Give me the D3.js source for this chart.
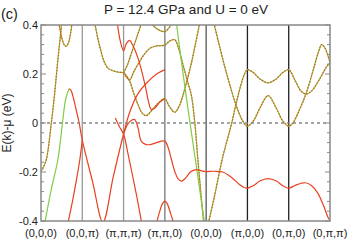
<!DOCTYPE html>
<html>
<meta charset="utf-8">
<head>
    <title>Band structure, P = 12.4 GPa, U = 0 eV</title>
    <script src="https://d3js.org/d3.v7.min.js"></script>
    <style>
    body { margin: 0; background: white; }
    text { font-family: "Liberation Sans", Arial, sans-serif; fill: #222; }
    </style>
</head>
<body>
<script>

// k-path labels (one per high-symmetry point)
var kLabels = ["(0,0,0)", "(0,0,\u03c0)", "(\u03c0,\u03c0,\u03c0)", "(\u03c0,\u03c0,0)",
               "(0,0,0)", "(\u03c0,0,0)", "(0,\u03c0,0)", "(0,\u03c0,\u03c0)"];
var yTicks = [-0.4, -0.2, 0, 0.2, 0.4];

// bands: [k along path, E(k)-mu in eV]
var bandA = [[0,-0.197],[0.06,-0.18],[0.13,-0.149],[0.25,0],[0.33,0.12],[0.41,0.26],[0.51,0.42]];
var bandV = [[0.42,0.42],[0.5,0.35],[0.56,0.32],[0.61,0.313],[0.67,0.33],[0.72,0.37],[0.76,0.42]];
var bandB1 = [[0.08,-0.42],[0.25,-0.27],[0.41,-0.149],[0.52,0],[0.6,0.1],[0.68,0.14]];
var bandB2 = [[0.68,0.14],[0.72,0.135],[0.78,0.105],[0.85,0.055],[0.925,0],[1,-0.07],[1.25,-0.24],
              [1.5,-0.405],[1.75,-0.22],[2,-0.045],[2.15,0.045],[2.35,0.12],[2.6,0.17],[2.8,0.2],[3,0.218]];
var bandR1 = [[0.65,-0.41],[0.75,-0.33],[0.85,-0.24],[0.94,-0.15],[1,-0.07]];
var bandP = [[1.29,0.42],[1.37,0.35],[1.45,0.295],[1.53,0.25],[1.62,0.224],[1.75,0.213],[1.9,0.207],
             [2,0.205],[2.08,0.19],[2.15,0.17],[2.25,0.12],[2.35,0.075],[2.45,0.04],[2.55,0.03],
             [2.65,0.045],[2.8,0.075],[2.9,0.09],[3,0.1],[3.1,0.07],[3.24,0.044],[3.35,0.07],
             [3.5,0.15],[3.65,0.25],[3.75,0.33],[3.86,0.42]];
var bandQ = [[1.84,0.42],[1.92,0.335],[2,0.295],[2.07,0.325],[2.15,0.337],[2.22,0.318],[2.35,0.265],
             [2.52,0.156],[2.6,0.09],[2.67,0.055],[2.75,0.06],[2.88,0.085],[3,0.1]];
var bandP2 = [[2,0.205],[2.1,0.24],[2.2,0.29],[2.32,0.35],[2.46,0.42]];
var bandS = [[2,0.205],[2.08,0.185],[2.15,0.176],[2.25,0.21],[2.39,0.251],[2.5,0.28],[2.64,0.305],
             [2.8,0.315],[3,0.318],[3.12,0.335],[3.24,0.34],[3.34,0.3],[3.44,0.237],[3.54,0.175],
             [3.64,0.115],[3.72,0.01],[3.8,-0.15],[3.88,-0.3],[3.95,-0.42]];
var bandH = [[2.58,0.42],[2.7,0.4],[2.85,0.38],[3,0.373],[3.1,0.388],[3.2,0.42]];
var bandT = [[3.27,0.42],[3.45,0.19],[3.64,-0.035],[3.8,-0.22],[3.97,-0.42]];
var bandW = [[4.04,-0.42],[4.2,-0.3],[4.4,-0.14],[4.62,0],[4.72,0.075],[4.85,0.16],[4.93,0.2],[5,0.218],
             [5.15,0.205],[5.3,0.18],[5.5,0.164],[5.7,0.18],[5.85,0.205],[6,0.218],[6.15,0.175],
             [6.3,0.13],[6.42,0.118],[6.55,0.13],[6.75,0.18],[6.9,0.225],[7,0.247]];
var bandX = [[4.17,0.42],[4.3,0.33],[4.45,0.23],[4.6,0.14],[4.72,0.075],[4.85,0.02],[4.95,-0.008],[5,-0.013],
             [5.15,0.01],[5.3,0.06],[5.5,0.112],[5.7,0.06],[5.85,0.01],[6,-0.013],[6.1,0],[6.25,0.05],
             [6.42,0.12],[6.6,0.22],[6.72,0.29],[6.8,0.32],[6.88,0.305],[7,0.247]];
var bandF = [[2,-0.045],[2.1,-0.005],[2.2,0.012],[2.27,0.014],[2.35,-0.02],[2.43,-0.075],[2.55,-0.088],
             [2.65,-0.088],[2.8,-0.08],[2.92,-0.074],[3,-0.074],[3.08,-0.1],[3.16,-0.15],[3.24,-0.198],
             [3.32,-0.228],[3.4,-0.237],[3.5,-0.225],[3.62,-0.2],[3.76,-0.19],[3.88,-0.195],[4,-0.198],
             [4.2,-0.197],[4.4,-0.2],[4.6,-0.22],[4.8,-0.25],[4.92,-0.263],[5,-0.266],[5.15,-0.255],
             [5.3,-0.237],[5.5,-0.227],[5.7,-0.237],[5.85,-0.255],[6,-0.266],[6.15,-0.255],[6.3,-0.246],
             [6.4,-0.244],[6.55,-0.255],[6.7,-0.285],[6.85,-0.34],[6.95,-0.385],[7,-0.398]];
var bandG = [[2.78,-0.42],[2.86,-0.37],[2.94,-0.33],[3,-0.319],[3.06,-0.33],[3.14,-0.37],[3.24,-0.42]];
var bandD = [[1.8,0.02],[1.9,-0.015],[2,-0.045],[2.1,-0.12],[2.2,-0.2],[2.32,-0.3],[2.44,-0.41]];

// which character each band has: red, green or mixed (drawn green + red dashes)
var redBands = [bandB2, bandR1, bandQ, bandF, bandG, bandD];
var greenBands = [bandB1, bandT];
var mixBands = [bandA, bandV, bandP, bandP2, bandS, bandH, bandW, bandX];

var width = 349, height = 244;
var plotLeft = 41, plotRight = 330, plotTop = 25, plotBottom = 221;

var svg = d3.select("body").append("svg")
    .attr("width", width)
    .attr("height", height);

var x = d3.scaleLinear().domain([0, kLabels.length - 1]).range([plotLeft, plotRight]);
var y = d3.scaleLinear().domain([-0.4, 0.4]).range([plotBottom, plotTop]);

svg.append("defs").append("clipPath").attr("id", "plot")
    .append("rect")
    .attr("x", plotLeft).attr("y", plotTop)
    .attr("width", plotRight - plotLeft).attr("height", plotBottom - plotTop);

// vertical lines at the high-symmetry points
var vColors = ["#999", "#999", "#999", "#777", "#555", "#222", "#222", "#999"];
svg.append("g").selectAll("line")
    .data(d3.range(1, kLabels.length - 1))
    .enter().append("line")
    .attr("x1", d => x(d)).attr("x2", d => x(d))
    .attr("y1", plotTop).attr("y2", plotBottom)
    .attr("stroke", d => vColors[d])
    .attr("stroke-width", 1.3);

// minor ticks every 0.04 on both sides
var tickVals = d3.range(-10, 11).map(d => d * 0.04);
var ticks = svg.append("g").attr("stroke", "#888").attr("stroke-width", 1);
tickVals.forEach(function(t) {
    var len = (Math.abs(Math.round(t * 100)) % 20 === 0) ? 5 : 3;
    ticks.append("line").attr("x1", plotLeft).attr("x2", plotLeft + len)
        .attr("y1", y(t)).attr("y2", y(t));
    ticks.append("line").attr("x1", plotRight - len).attr("x2", plotRight)
        .attr("y1", y(t)).attr("y2", y(t));
});

var line = d3.line()
    .x(d => x(d[0]))
    .y(d => y(d[1]))
    .curve(d3.curveCatmullRom.alpha(0.5));

var bands = svg.append("g").attr("clip-path", "url(#plot)").attr("fill", "none");

bands.selectAll(".mixBase")
    .data(mixBands).enter().append("path")
    .attr("d", line)
    .attr("stroke", "#8cc63f")
    .attr("stroke-width", 1.25);

bands.selectAll(".mixTop")
    .data(mixBands).enter().append("path")
    .attr("d", line)
    .attr("stroke", "#e2502a")
    .attr("stroke-width", 1.15)
    .attr("stroke-dasharray", "1.5,1.5");

bands.selectAll(".green")
    .data(greenBands).enter().append("path")
    .attr("d", line)
    .attr("stroke", "#82cc48")
    .attr("stroke-width", 1.2);

bands.selectAll(".red")
    .data(redBands).enter().append("path")
    .attr("d", line)
    .attr("stroke", "#e8401f")
    .attr("stroke-width", 1.2);

// Fermi level
svg.append("line")
    .attr("x1", plotLeft).attr("x2", plotRight)
    .attr("y1", y(0)).attr("y2", y(0))
    .attr("stroke", "#888")
    .attr("stroke-width", 1.4)
    .attr("stroke-dasharray", "3,3");

// frame
svg.append("rect")
    .attr("x", plotLeft).attr("y", plotTop)
    .attr("width", plotRight - plotLeft).attr("height", plotBottom - plotTop)
    .attr("fill", "none")
    .attr("stroke", "#888")
    .attr("stroke-width", 1.5);

// y tick labels
svg.append("g").selectAll("text")
    .data(yTicks).enter().append("text")
    .attr("x", plotLeft - 3)
    .attr("y", d => y(d))
    .attr("dy", "0.35em")
    .attr("text-anchor", "end")
    .attr("font-size", 11)
    .text(d => d === 0 ? "0" : d3.format(".1f")(d).replace("\u2212", "-"));

// x labels
svg.append("g").selectAll("text")
    .data(kLabels).enter().append("text")
    .attr("x", (d, i) => x(i))
    .attr("y", 237)
    .attr("text-anchor", "middle")
    .attr("font-size", 11)
    .text(d => d);

svg.append("text")
    .attr("x", 186).attr("y", 14)
    .attr("text-anchor", "middle")
    .attr("font-size", 13.5)
    .text("P = 12.4 GPa and U = 0 eV");

svg.append("text")
    .attr("x", 1).attr("y", 19)
    .attr("font-size", 14.5)
    .text("(c)");

svg.append("text")
    .attr("transform", "translate(11," + y(0) + ") rotate(-90)")
    .attr("text-anchor", "middle")
    .attr("font-size", 12)
    .text("E(k)-\u03bc (eV)");

</script>
</body>
</html>
